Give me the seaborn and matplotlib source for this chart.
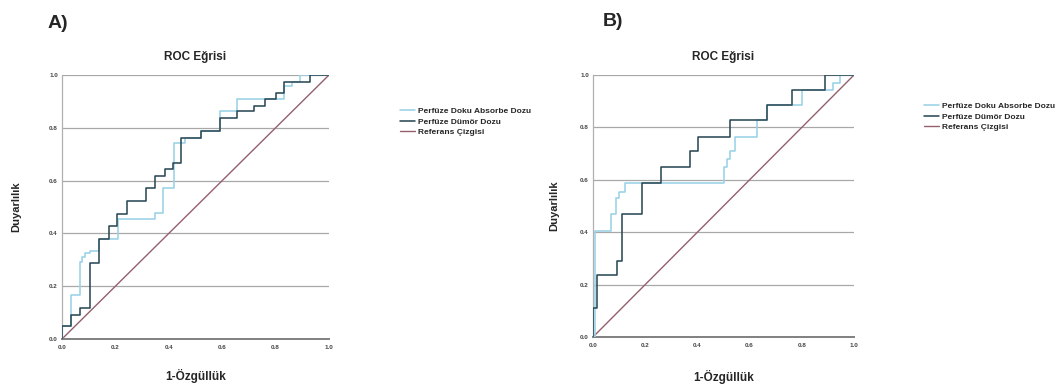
import numpy as np
import pandas as pd
import matplotlib
matplotlib.use("Agg")
import matplotlib.pyplot as plt
import seaborn as sns

# ---------------- data ----------------
series_names = ["Perfüze Doku Absorbe Dozu", "Perfüze Dümör Dozu", "Referans Çizgisi"]
panel_labels = ["A)", "B)"]
title_text = "ROC Eğrisi"
x_label = "1-Özgüllük"
y_label = "Duyarlılık"
tick_values = [0.0, 0.2, 0.4, 0.6, 0.8, 1.0]
tick_labels = ["0.0", "0.2", "0.4", "0.6", "0.8", "1.0"]

# Panel A
a_absorbe_fpr = [0, 0, 0.034, 0.068, 0.075, 0.085, 0.103, 0.138, 0.21, 0.349, 0.38, 0.418,
                 0.46, 0.52, 0.59, 0.656, 0.83, 0.86, 0.89, 1.0]
a_absorbe_tpr = [0, 0.048, 0.167, 0.29, 0.31, 0.325, 0.335, 0.38, 0.455, 0.476, 0.571, 0.742,
                 0.761, 0.786, 0.862, 0.908, 0.96, 0.975, 1.0, 1.0]
a_tumor_fpr = [0, 0, 0.034, 0.068, 0.103, 0.138, 0.175, 0.207, 0.243, 0.316, 0.347, 0.385,
               0.416, 0.447, 0.52, 0.59, 0.656, 0.72, 0.76, 0.80, 0.83, 0.93, 1.0]
a_tumor_tpr = [0, 0.048, 0.092, 0.117, 0.287, 0.38, 0.428, 0.475, 0.523, 0.572, 0.618, 0.643,
               0.666, 0.761, 0.786, 0.837, 0.862, 0.884, 0.908, 0.933, 0.975, 1.0, 1.0]

# Panel B
b_absorbe_fpr = [0, 0.008, 0.069, 0.089, 0.10, 0.124, 0.50, 0.512, 0.525, 0.545, 0.628,
                 0.666, 0.80, 0.92, 0.946, 1.0]
b_absorbe_tpr = [0, 0.406, 0.47, 0.532, 0.555, 0.586, 0.647, 0.68, 0.711, 0.765, 0.827,
                 0.885, 0.942, 0.97, 1.0, 1.0]
b_tumor_fpr = [0, 0, 0.015, 0.092, 0.111, 0.1875, 0.261, 0.372, 0.404, 0.523, 0.666,
               0.761, 0.889, 1.0]
b_tumor_tpr = [0, 0.112, 0.235, 0.29, 0.468, 0.586, 0.647, 0.709, 0.765, 0.827, 0.885,
               0.942, 1.0, 1.0]

ref_x = [0.0, 1.0]
ref_y = [0.0, 1.0]

colors = ["#9ad2e8", "#2c4a55", "#94606c"]

# ---------------- figure ----------------
sns.set_style("white")
plt.rcParams["font.family"] = ["Liberation Sans", "DejaVu Sans"]

W, H = 1063, 386
fig = plt.figure(figsize=(W / 100, H / 100), dpi=100)

def frac_box(x0, x1, ytop, ybot):
    return [x0 / W, 1 - ybot / H, (x1 - x0) / W, (ybot - ytop) / H]

axes_boxes = [frac_box(62, 329, 75, 339), frac_box(593, 854, 75, 337)]
panel_data = [
    (a_absorbe_fpr, a_absorbe_tpr, a_tumor_fpr, a_tumor_tpr),
    (b_absorbe_fpr, b_absorbe_tpr, b_tumor_fpr, b_tumor_tpr),
]
legend_pos = [(400, 107), (924, 102)]
label_pos = [(48, 23), (603, 22)]
xlabel_coords = [-0.14, -0.153]
ylabel_coords = [-0.172, -0.149]

for i, box in enumerate(axes_boxes):
    ax = fig.add_axes(box)
    fa, ta, fd, td = panel_data[i]
    df = pd.concat([
        pd.DataFrame({"fpr": fa, "tpr": ta, "seri": series_names[0]}),
        pd.DataFrame({"fpr": fd, "tpr": td, "seri": series_names[1]}),
    ], ignore_index=True)
    for k in range(2):
        sub = df[df["seri"] == series_names[k]]
        sns.lineplot(data=sub, x="fpr", y="tpr", ax=ax, color=colors[k],
                     estimator=None, sort=False, drawstyle="steps-post",
                     linewidth=1.15, label=series_names[k], zorder=3 + k)
    sns.lineplot(x=ref_x, y=ref_y, ax=ax, color=colors[2], linewidth=1.0,
                 estimator=None, sort=False, label=series_names[2], zorder=2)

    ax.set_xlim(0, 1)
    ax.set_ylim(0, 1)
    ax.set_xticks(tick_values)
    ax.set_xticklabels(tick_labels)
    ax.set_yticks(tick_values)
    ax.set_yticklabels(tick_labels)
    ax.tick_params(axis="both", length=0, labelsize=4.5, labelcolor="#444444")
    ax.tick_params(axis="x", pad=4.5)
    ax.tick_params(axis="y", pad=3)
    for lab in ax.get_xticklabels() + ax.get_yticklabels():
        lab.set_fontweight("bold")
    ax.yaxis.grid(True, color="#a8a8a8", linewidth=0.9)
    ax.xaxis.grid(False)
    ax.set_axisbelow(True)
    for s in ["top", "right"]:
        ax.spines[s].set_visible(False)
    ax.spines["left"].set_color("#b0b0b0")
    ax.spines["left"].set_linewidth(0.9)
    ax.spines["bottom"].set_color("#808080")
    ax.spines["bottom"].set_linewidth(1.4)

    ax.set_xlabel(x_label, fontsize=8.5, fontweight="bold", va="center")
    ax.xaxis.set_label_coords(0.5, xlabel_coords[i])
    ax.set_ylabel(y_label, fontsize=8, fontweight="bold", va="center")
    ax.yaxis.set_label_coords(ylabel_coords[i], 0.5)
    ax.set_title(title_text, fontsize=8.5, fontweight="bold", pad=11)

    handles, labels = ax.get_legend_handles_labels()
    if ax.get_legend():
        ax.get_legend().remove()
    lx, ly = legend_pos[i]
    fig.legend(handles, labels, loc="upper left",
               bbox_to_anchor=(lx / W, 1 - ly / H), frameon=False,
               borderpad=0, borderaxespad=0, handlelength=1.8,
               handletextpad=0.35, labelspacing=0.35,
               prop={"size": 6, "weight": "bold"})

    px, py = label_pos[i]
    fig.text(px / W, 1 - py / H, panel_labels[i], fontsize=14,
             fontweight="bold", ha="left", va="center")

fig.savefig("out.png", dpi=100)
